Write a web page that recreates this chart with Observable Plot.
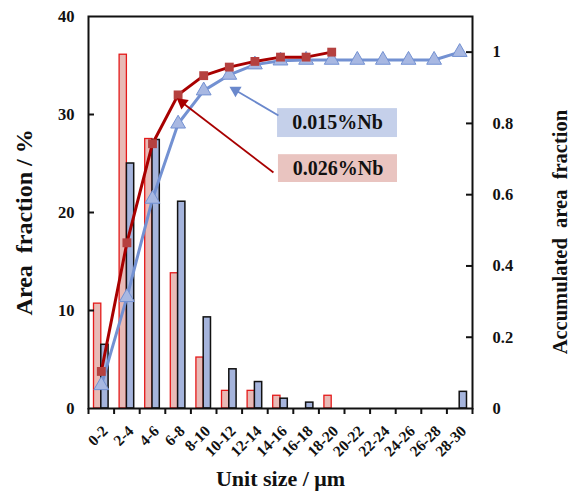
<!DOCTYPE html>
<html><head><meta charset="utf-8">
<script src="https://cdn.jsdelivr.net/npm/d3@7"></script>
<script src="https://cdn.jsdelivr.net/npm/@observablehq/plot@0.6"></script>
<style>body{margin:0;background:#fff}svg{font-family:"Liberation Serif","Times New Roman",serif}</style>
</head><body><div id="chart"></div>
<script>
// ---- data ----
const categories = ["0-2","2-4","4-6","6-8","8-10","10-12","12-14","14-16","16-18","18-20","20-22","22-24","24-26","26-28","28-30"];
const area026 = [10.7, 36.1, 27.5, 13.8, 5.2, 1.8, 1.8, 1.3, 0, 1.3, 0, 0, 0, 0, 0];
const area015 = [6.5, 25.0, 27.4, 21.1, 9.3, 4.0, 2.7, 1.0, 0.6, 0, 0, 0, 0, 0, 1.7];
const cum026 = [0.104, 0.465, 0.743, 0.880, 0.934, 0.958, 0.974, 0.986, 0.986, 1.0];
const cum015 = [0.065, 0.312, 0.588, 0.799, 0.892, 0.936, 0.965, 0.976, 0.978, 0.978, 0.978, 0.978, 0.978, 0.978, 1.0];
const leftTicks = [0, 10, 20, 30, 40];
const rightTicks = [0, 0.2, 0.4, 0.6, 0.8, 1];
const seriesNames = ["0.015%Nb", "0.026%Nb"];

// ---- layout ----
const W = 583, H = 498, mL = 88, mR = 111, mT = 16, mB = 90;
const yMax = 40, y2Max = 1.1, k = yMax / y2Max;
const pxX = (W - mL - mR) / 30, pxY = (H - mT - mB) / yMax;
const barW = 0.57;
const font = "Liberation Serif";

const lo = c => +c.split("-")[0];
const hi = c => +c.split("-")[1];
const mid = c => (lo(c) + hi(c)) / 2;

const bars = [];
categories.forEach((c, i) => {
  if (area026[i] > 0) bars.push({s: "026", x1: mid(c) - barW, x2: mid(c), v: area026[i]});
  if (area015[i] > 0) bars.push({s: "015", x1: mid(c), x2: mid(c) + barW, v: area015[i]});
});
const line026 = cum026.map((v, i) => ({x: mid(categories[i]), y: v * k}));
const line015 = cum015.map((v, i) => ({x: mid(categories[i]), y: v * k}));

// annotations (boxes & arrows, in data units)
const boxes = [
  {x1: 14.77, x2: 24.14, y1: 27.65, y2: 30.6, fill: "#c5d0ea", label: seriesNames[0]},
  {x1: 14.84, x2: 24.14, y1: 23.06, y2: 25.9, fill: "#e9c4c0", label: seriesNames[1]}
];
const arrows = [
  {x1: 14.84, y1: 29.9, x2: 11.25, y2: 32.65, color: "#6a88cc"},
  {x1: 14.45, y1: 24.08, x2: 7.11, y2: 31.43, color: "#a80000"}
];
const heads = arrows.map(a => {
  const dx = (a.x2 - a.x1) * pxX, dy = -(a.y2 - a.y1) * pxY;
  const L = Math.hypot(dx, dy), ux = dx / L, uy = dy / L;
  return {x: a.x2 - ux * 3.5 / pxX, y: a.y2 + uy * 3.5 / pxY, rot: Math.atan2(ux, -uy) * 180 / Math.PI, color: a.color};
});

const edges = d3.range(0, 31, 2);

const chart = Plot.plot({
  width: W, height: H,
  marginLeft: mL, marginRight: mR, marginTop: mT, marginBottom: mB,
  x: {domain: [0, 30], axis: null},
  y: {domain: [0, yMax], axis: null},
  marks: [
    // bars
    Plot.rect(bars.filter(d => d.s === "026"), {x1: "x1", x2: "x2", y1: 0, y2: "v", fill: "#e8bab6", stroke: "#e41a1a", strokeWidth: 1.3}),
    Plot.rect(bars.filter(d => d.s === "015"), {x1: "x1", x2: "x2", y1: 0, y2: "v", fill: "#a5b4dc", stroke: "#111", strokeWidth: 1.5}),
    // cumulative lines
    Plot.line(line015, {x: "x", y: "y", stroke: "#7391d2", strokeWidth: 3}),
    Plot.dot(line015, {x: "x", y: "y", symbol: "triangle", r: 5.5, fill: "#a8b8e2", stroke: "#7391d2", strokeWidth: 1}),
    Plot.line(line026, {x: "x", y: "y", stroke: "#a80000", strokeWidth: 3}),
    Plot.dot(line026, {x: "x", y: "y", symbol: "square", r: 5, fill: "#b5413f", stroke: "none"}),
    // annotations
    Plot.rect(boxes, {x1: "x1", x2: "x2", y1: "y1", y2: "y2", fill: "fill"}),
    Plot.text(boxes, {x: d => (d.x1 + d.x2) / 2, y: d => (d.y1 + d.y2) / 2, text: "label", fontSize: 20, fontWeight: "bold", fontFamily: font, fill: "#111"}),
    Plot.link(arrows, {x1: "x1", y1: "y1", x2: "x2", y2: "y2", stroke: "color", strokeWidth: 1.8}),
    Plot.dot(heads, {x: "x", y: "y", symbol: "triangle", r: 4.5, rotate: "rot", fill: "color", stroke: "none"}),
    // frame
    Plot.frame({stroke: "#111", strokeWidth: 2}),
    // ticks
    Plot.ruleY(leftTicks.slice(1, -1), {y: d => d, x1: 0, x2: 6 / pxX, stroke: "#111", strokeWidth: 2}),
    Plot.ruleY(rightTicks.slice(1), {y: d => d * k, x1: 30 - 6 / pxX, x2: 30, stroke: "#111", strokeWidth: 2}),
    Plot.ruleX(edges, {x: d => d, y1: 0, y2: -6 / pxY, stroke: "#111", strokeWidth: 2}),
    // tick labels
    Plot.text(leftTicks, {x: 0, y: d => d, text: d => String(d), dx: -14, textAnchor: "end", fontSize: 16.5, fontWeight: "bold", fontFamily: font, fill: "#111"}),
    Plot.text(rightTicks, {x: 30, y: d => d * k, text: d => String(d), dx: 20, textAnchor: "start", fontSize: 16.5, fontWeight: "bold", fontFamily: font, fill: "#111"}),
    Plot.text(categories, {x: d => mid(d), y: 0, text: d => d, dx: 4, dy: 20, rotate: -45, textAnchor: "end", fontSize: 15.5, fontWeight: "bold", fontFamily: font, fill: "#111"}),
    // axis titles
    Plot.text(["Unit size / μm"], {x: 15, y: 0, dy: 70, text: d => d, fontSize: 22, fontWeight: "bold", fontFamily: font, fill: "#111"}),
    Plot.text(["Area  fraction / %"], {x: 0, y: 19, dx: -64, rotate: -90, text: d => d, fontSize: 24, fontWeight: "bold", fontFamily: font, fill: "#111"}),
    Plot.text(["Accumulated  area  fraction"], {x: 30, y: 18, dx: 88, rotate: -90, text: d => d, fontSize: 20.5, fontWeight: "bold", fontFamily: font, fill: "#111"})
  ]
});
chart.querySelectorAll("text").forEach(t => t.style.whiteSpace = "pre");
document.getElementById("chart").append(chart);
</script>
</body></html>
